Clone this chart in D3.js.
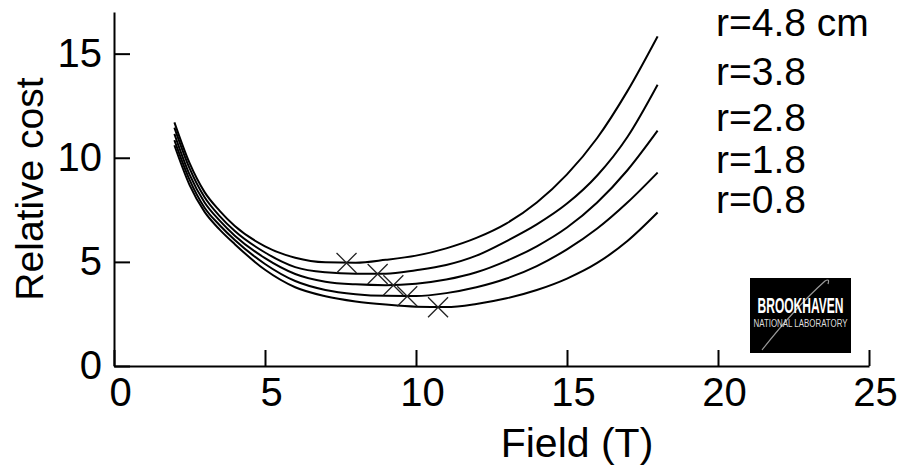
<!DOCTYPE html>
<html>
<head>
<meta charset="utf-8">
<script src="https://cdn.jsdelivr.net/npm/d3@7"></script>
<style>
    body { margin: 0; background: #fff; }
    #chart { width: 897px; height: 466px; }
    text { font-family: "Liberation Sans", Arial, sans-serif; fill: #000; }
</style>
</head>
<body>
<div id="chart"></div>
<script>
const fieldValues = [2, 2.5, 3, 3.5, 4, 5, 6, 7, 8, 9, 10, 11, 12, 13, 14, 15, 16, 17, 18];

// relative cost for each bore radius
const cost48 = [11.7, 9.75, 8.35, 7.45, 6.72, 5.75, 5.2, 4.98, 4.96, 5.1, 5.3, 5.65, 6.15, 6.85, 7.85, 9.2, 10.95, 13.2, 15.83];
const cost38 = [11.45, 9.5, 8.1, 7.2, 6.48, 5.45, 4.75, 4.5, 4.43, 4.43, 4.6, 4.85, 5.3, 6.0, 6.8, 7.8, 9.15, 11.0, 13.51];
const cost28 = [11.15, 9.2, 7.85, 6.98, 6.26, 5.18, 4.42, 4.05, 3.92, 3.88, 3.95, 4.15, 4.5, 5.05, 5.75, 6.65, 7.85, 9.4, 11.3];
const cost18 = [10.85, 8.95, 7.6, 6.76, 6.05, 4.9, 4.08, 3.65, 3.45, 3.37, 3.36, 3.5, 3.78, 4.2, 4.8, 5.6, 6.6, 7.85, 9.29];
const cost08 = [10.6, 8.7, 7.4, 6.55, 5.85, 4.62, 3.78, 3.35, 3.1, 2.95, 2.85, 2.83, 2.98, 3.25, 3.65, 4.2, 4.95, 6.0, 7.37];

const seriesLabels = ["r=4.8 cm", "r=3.8", "r=2.8", "r=1.8", "r=0.8"];

// cost minimum of each curve (the crosses)
const minField = [7.7, 8.73, 9.25, 9.71, 10.73];
const minCost = [4.95, 4.42, 3.88, 3.35, 2.82];

const xTicks = [0, 5, 10, 15, 20, 25];
const yTicks = [0, 5, 10, 15];

class CostChart {
    constructor(parentElement) {
        this.parentElement = parentElement;
        this.initVis();
    }

    initVis() {
        let vis = this;

        vis.svg = d3.select("#" + vis.parentElement).append("svg")
            .attr("width", 897)
            .attr("height", 466);

        vis.x = d3.scaleLinear().domain([0, 25]).range([114, 869]);
        vis.y = d3.scaleLinear().domain([0, 17]).range([366, 12]);

        vis.xAxis = vis.svg.append("g")
            .attr("class", "x axis")
            .attr("transform", "translate(0," + vis.y(0) + ")");

        vis.yAxis = vis.svg.append("g")
            .attr("class", "y axis")
            .attr("transform", "translate(" + vis.x(0) + ",0)");

        vis.line = d3.line()
            .x(d => vis.x(d.field))
            .y(d => vis.y(d.cost))
            .curve(d3.curveMonotoneX);

        vis.wrangleData();
    }

    wrangleData() {
        let vis = this;

        vis.displayData = [cost48, cost38, cost28, cost18, cost08].map((vals, i) => ({
            label: seriesLabels[i],
            values: vals.map((c, j) => ({field: fieldValues[j], cost: c}))
        }));

        vis.minima = minField.map((f, i) => ({field: f, cost: minCost[i]}));

        vis.updateVis();
    }

    updateVis() {
        let vis = this;

        vis.xAxis.call(d3.axisBottom(vis.x)
            .tickValues(xTicks)
            .tickSizeInner(-16)
            .tickSizeOuter(0)
            .tickPadding(12));
        vis.xAxis.selectAll("text")
            .attr("font-size", 40)
            .attr("dx", 6)
            .attr("dy", "0.7em");

        vis.yAxis.call(d3.axisLeft(vis.y)
            .tickValues(yTicks)
            .tickSizeInner(-16)
            .tickSizeOuter(0)
            .tickPadding(12));
        vis.yAxis.selectAll("text")
            .attr("font-size", 40);

        vis.svg.selectAll(".axis path, .axis line")
            .attr("stroke", "#000")
            .attr("stroke-width", 2);
        vis.svg.selectAll(".axis text").attr("font-family", null).attr("fill", "#000");

        // axis titles
        vis.svg.append("text")
            .attr("x", 577)
            .attr("y", 457)
            .attr("text-anchor", "middle")
            .attr("font-size", 41)
            .text("Field (T)");

        vis.svg.append("text")
            .attr("transform", "translate(43,189) rotate(-90)")
            .attr("text-anchor", "middle")
            .attr("font-size", 39)
            .text("Relative cost");

        // curves
        vis.svg.selectAll(".cost-line")
            .data(vis.displayData)
            .enter().append("path")
            .attr("class", "cost-line")
            .attr("fill", "none")
            .attr("stroke", "#000")
            .attr("stroke-width", 2)
            .attr("d", d => vis.line(d.values));

        // labels sit at the end of each curve
        vis.svg.selectAll(".cost-label")
            .data(vis.displayData)
            .enter().append("text")
            .attr("class", "cost-label")
            .attr("x", 716)
            .attr("y", d => vis.y(d.values[d.values.length - 1].cost))
            .attr("font-size", 39)
            .text(d => d.label);

        // crosses at the minima
        let s = 10;
        vis.svg.selectAll(".min-mark")
            .data(vis.minima)
            .enter().append("path")
            .attr("class", "min-mark")
            .attr("fill", "none")
            .attr("stroke", "#222")
            .attr("stroke-width", 1.3)
            .attr("d", d => {
                let cx = vis.x(d.field), cy = vis.y(d.cost);
                return `M${cx - s},${cy - s}L${cx + s},${cy + s}M${cx - s},${cy + s}L${cx + s},${cy - s}`;
            });

        // lab logo
        let logo = vis.svg.append("g").attr("transform", "translate(750,278)");
        logo.append("rect")
            .attr("width", 101)
            .attr("height", 75)
            .attr("fill", "#000");
        logo.append("path")
            .attr("d", "M12,72 Q45,30 75,3 Q80,0 78,6")
            .attr("fill", "none")
            .attr("stroke", "#999")
            .attr("stroke-width", 1.2);
        logo.append("circle")
            .attr("cx", 66).attr("cy", 30).attr("r", 2)
            .attr("fill", "#c0392b");
        logo.append("text")
            .attr("x", 50.5).attr("y", 35)
            .attr("text-anchor", "middle")
            .attr("font-family", "'Liberation Sans Narrow', 'DejaVu Sans Condensed', sans-serif")
            .attr("font-weight", "bold")
            .attr("font-size", 22)
            .attr("textLength", 86)
            .attr("lengthAdjust", "spacingAndGlyphs")
            .style("fill", "#fff")
            .text("BROOKHAVEN");
        logo.append("text")
            .attr("x", 50.5).attr("y", 49)
            .attr("text-anchor", "middle")
            .attr("font-family", "'Liberation Serif', serif")
            .attr("font-size", 11)
            .attr("textLength", 94)
            .attr("lengthAdjust", "spacingAndGlyphs")
            .style("fill", "#ddd")
            .text("NATIONAL LABORATORY");
    }
}

new CostChart("chart");
</script>
</body>
</html>
